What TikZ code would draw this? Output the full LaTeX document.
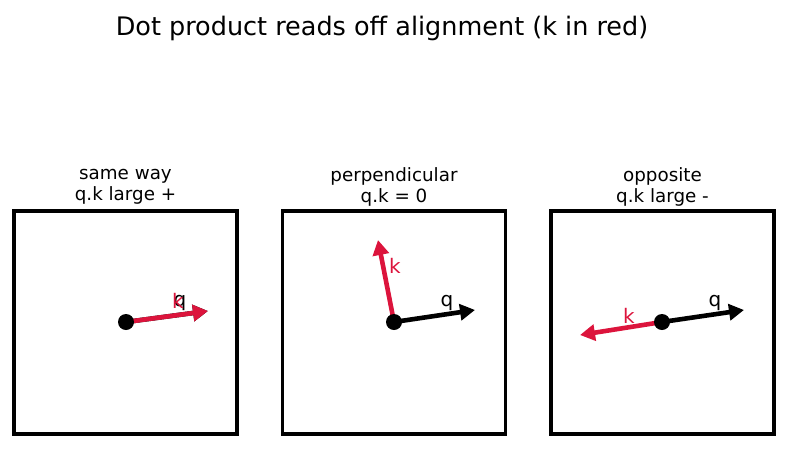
\documentclass[tikz,border=0pt]{standalone}
\usepackage{fontspec}
\setmainfont{DejaVu Sans}
\usetikzlibrary{arrows.meta}
\definecolor{kred}{HTML}{DC143C}
\tikzset{
  panel/.style={draw=black,line width=3.2pt,minimum width=223pt,minimum height=223pt,inner sep=0pt},
  vec/.style={line width=4.6pt,-{Triangle[length=15pt,width=16pt]}},
  qvec/.style={vec,draw=black},
  kvec/.style={vec,draw=kred},
  dot/.style={circle,fill=black,inner sep=0pt,minimum size=16pt},
  lab/.style={font=\fontsize{20}{24}\selectfont,inner sep=0pt},
  ptitle/.style={font=\fontsize{18.3}{20.5}\selectfont,align=center,inner sep=0pt},
}
\begin{document}
\begin{tikzpicture}[x=1pt,y=-1pt]
\useasboundingbox (0,0) rectangle (787,448);
\node[font=\fontsize{25.5}{30}\selectfont,inner sep=0pt] (title) at (382,28) {Dot product reads off alignment (k in red)};
% panel 1
\node[panel] (p1) at (125.5,322.5) {};
\node[ptitle] (t1) at (125.5,187) {same way\\q.k large +};
\coordinate (o1) at (126,322);
\coordinate (q1) at (208,311);
\draw[qvec] (o1) -- (q1);
\draw[kvec] (o1) -- (q1);
\node[dot] (d1) at (o1) {};
\node[lab] (ql1) at (180,303) {q};
\node[lab,text=kred] (kl1) at (178,301) {k};
% panel 2
\node[panel] (p2) at (394,322.5) {};
\node[ptitle] (t2) at (394,187) {perpendicular\\q.k = 0};
\coordinate (o2) at (394,322);
\coordinate (q2) at (475,310);
\coordinate (k2) at (378,240);
\draw[qvec] (o2) -- (q2);
\draw[kvec] (o2) -- (k2);
\node[dot] (d2) at (o2) {};
\node[lab] (ql2) at (447,303) {q};
\node[lab,text=kred] (kl2) at (395,266) {k};
% panel 3
\node[panel] (p3) at (662.5,322.5) {};
\node[ptitle] (t3) at (662.5,187) {opposite\\q.k large -};
\coordinate (o3) at (662,322);
\coordinate (q3) at (744,310);
\coordinate (k3) at (580,335);
\draw[qvec] (o3) -- (q3);
\draw[kvec] (o3) -- (k3);
\node[dot] (d3) at (o3) {};
\node[lab] (ql3) at (715,303) {q};
\node[lab,text=kred] (kl3) at (629,316) {k};
\end{tikzpicture}
\end{document}
